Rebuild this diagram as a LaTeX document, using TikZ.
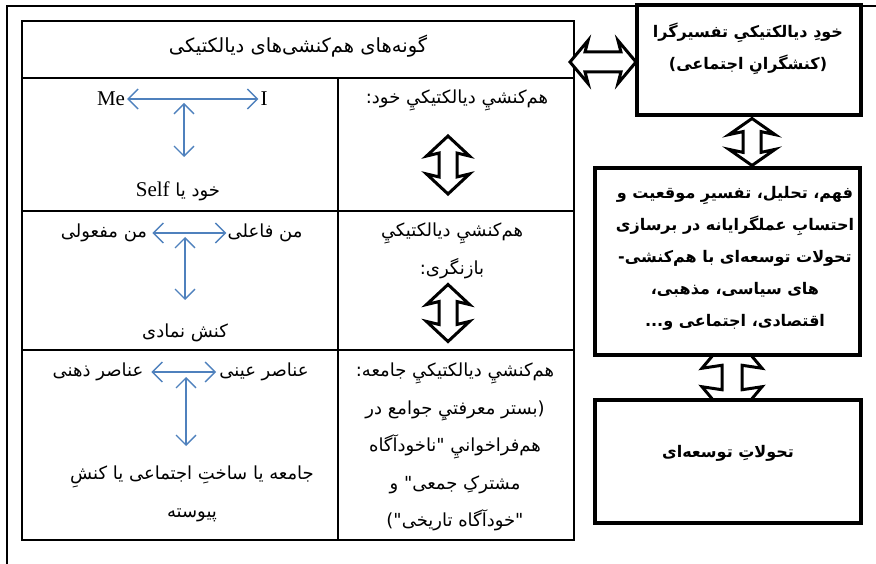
\documentclass[tikz,border=0pt]{standalone}
\usepackage{fontspec}
\usepackage{xcolor}
\usetikzlibrary{arrows.meta,shapes.arrows,positioning}
\setmainfont{Liberation Serif}
\newfontfamily\farsi[Script=Arabic,Ligatures=TeXOff]{DejaVu Sans}
\TeXXeTstate=1
\newcommand{\fa}[1]{\beginR#1\endR}
\definecolor{arrowblue}{RGB}{79,129,189}

\tikzset{
  tab/.style={line width=2pt},
  celltext/.style={font=\farsi\fontsize{18}{37.5}\selectfont, align=center, inner sep=0pt},
  boxtext/.style={font=\farsi\bfseries\fontsize{16}{32}\selectfont, align=center, inner sep=0pt},
  latin/.style={font=\fontsize{21}{21}\selectfont, inner sep=2pt},
  bluearrow/.style={draw=arrowblue, line width=1.4pt,
    {Straight Barb[length=10pt,width=20pt]}-{Straight Barb[length=10pt,width=20pt]}},
  thickbox/.style={draw, line width=4.5pt, fill=white, inner sep=0pt},
  fatarrow/.style={double arrow, draw, line width=3pt, fill=white,
    minimum width=0pt, double arrow head indent=3pt},
}

\begin{document}
\begin{tikzpicture}[x=1pt,y=-1pt]
\useasboundingbox (0,0) rectangle (876,564);
% outer frame
\draw[line width=1.5pt] (7,564) -- (7,6) -- (876,6);

% table of the types of interaction
\draw[tab] (22,21) rectangle (574,540);
\draw[tab] (22,78) -- (574,78);
\draw[tab] (338,78) -- (338,540);
\draw[tab] (22,211) -- (574,211);
\draw[tab] (22,350) -- (574,350);
\node[celltext, font=\farsi\fontsize{19.5}{24}\selectfont] (title) at (298,46) {\fa{گونه^^^^200cهای هم^^^^200cکنشی^^^^200cهای دیالکتیکی}};

% row 1
\node[latin] (me) at (111,99) {Me};
\node[latin] (i) at (264,99) {I};
\draw[bluearrow] (me) -- (i);
\coordinate (v1a) at (184,103);
\coordinate (v1b) at (184,157);
\draw[bluearrow] (v1a) -- (v1b);
\node[celltext] (self) at (178,191) {\fa{خود یا \beginL{\fontsize{21}{21}\rmfamily Self}\endL}};
\node[celltext] (t1) at (457,100) {\fa{هم^^^^200cکنشيِ دیالکتیکيِ خود:}};
\node[fatarrow, shape border rotate=90, inner sep=7.5pt, minimum height=58pt,
  double arrow head extend=12.5pt, double arrow tip angle=94] (f1) at (448,165) {};

% row 2
\node[celltext, inner xsep=1pt] (faeli) at (265,233) {\fa{من فاعلی}};
\node[celltext, inner xsep=5pt] (mafuli) at (104,233) {\fa{من مفعولی}};
\draw[bluearrow] (faeli) -- (mafuli);
\coordinate (v2a) at (185,237);
\coordinate (v2b) at (185,300);
\draw[bluearrow] (v2a) -- (v2b);
\node[celltext] (namadi) at (185,333) {\fa{کنش نمادی}};
\node[celltext] (t2) at (452,251) {\fa{هم^^^^200cکنشيِ دیالکتیکيِ}\\\fa{بازنگری:}};
\node[fatarrow, shape border rotate=90, inner sep=7.5pt, minimum height=57pt,
  double arrow head extend=12.5pt, double arrow tip angle=94] (f2) at (448,313) {};

% row 3
\node[celltext, inner xsep=3pt] (eyni) at (264,372) {\fa{عناصر عینی}};
\node[celltext, inner xsep=8pt] (zehni) at (98,372) {\fa{عناصر ذهنی}};
\draw[bluearrow] (eyni) -- (zehni);
\coordinate (v3a) at (186,377);
\coordinate (v3b) at (186,446);
\draw[bluearrow] (v3a) -- (v3b);
\node[celltext] (jameh) at (192,494) {\fa{جامعه یا ساختِ اجتماعی یا کنشِ}\\\fa{پیوسته}};
\node[celltext] (t3) at (455,447) {\fa{هم^^^^200cکنشيِ دیالکتیکيِ جامعه:}\\
  \fa{(بستر معرفتيِ جوامع در}\\
  \fa{هم^^^^200cفراخوانيِ "ناخودآگاه}\\
  \fa{مشترکِ جمعی" و}\\
  \fa{"خودآگاه تاریخی")}};

% boxes on the right
\node[fatarrow, inner xsep=0pt, inner ysep=8.5pt, minimum height=66pt,
  double arrow head extend=11.5pt, double arrow tip angle=100] (f0) at (603,62) {};
\node[fatarrow, shape border rotate=90, inner sep=8.5pt, minimum height=90pt,
  double arrow head extend=20pt, double arrow tip angle=80] (f4) at (732,377.5) {};
\node[thickbox, minimum width=224pt, minimum height=110pt] (self box) at (749,60) {};
\node[thickbox, minimum width=265pt, minimum height=187pt] (mid box) at (727.5,261.5) {};
\node[thickbox, minimum width=266pt, minimum height=123pt] (dev box) at (728,461.5) {};
\node[fatarrow, shape border rotate=90, inner sep=7.5pt, minimum height=47pt,
  double arrow head extend=14pt, double arrow tip angle=110] (f3) at (752,142) {};

\node[boxtext] (selftext) at (748,49) {\fa{خودِ دیالکتیکیِ تفسیرگرا}\\\fa{(کنشگرانِ اجتماعی)}};
\node[boxtext] (midtext) at (735,258) {\fa{فهم، تحلیل، تفسیرِ موقعیت و}\\
  \fa{احتسابِ عملگرایانه در برسازی}\\
  \fa{تحولات توسعه^^^^200cای  با هم^^^^200cکنشی-}\\
  \fa{های سیاسی، مذهبی،}\\
  \fa{اقتصادی، اجتماعی و...}};
\node[boxtext] (devtext) at (728,453) {\fa{تحولاتِ توسعه^^^^200cای}};
\end{tikzpicture}
\end{document}
